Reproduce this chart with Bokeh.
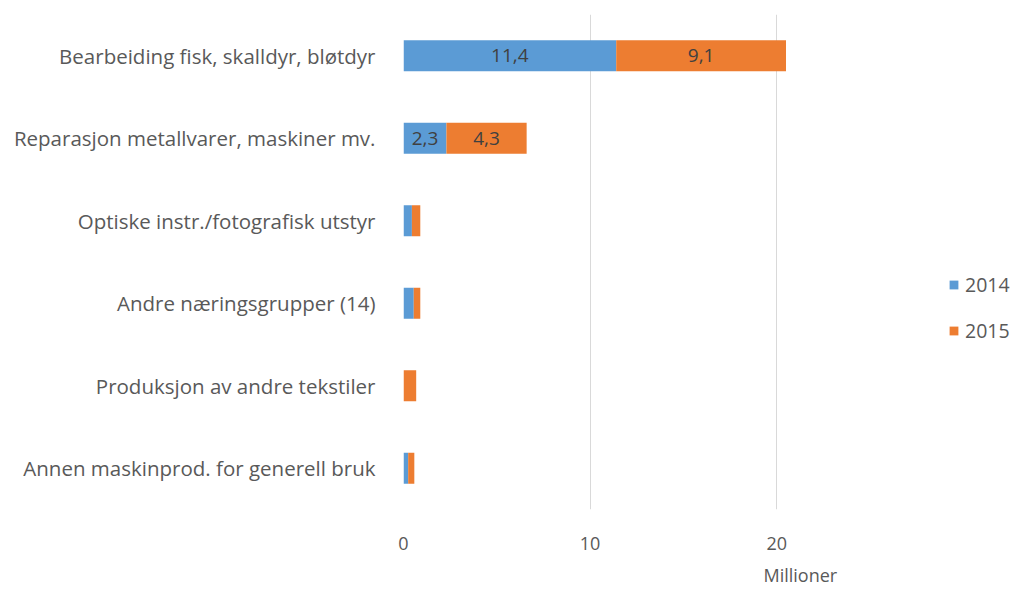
from bokeh.plotting import figure
from bokeh.models import ColumnDataSource, FixedTicker, Legend, LegendItem, Title
from bokeh.core.properties import value
from bokeh.embed import file_html
from bokeh.resources import INLINE

categories = [
    "Bearbeiding fisk, skalldyr, bløtdyr",
    "Reparasjon metallvarer, maskiner mv.",
    "Optiske instr./fotografisk utstyr",
    "Andre næringsgrupper (14)",
    "Produksjon av andre tekstiler",
    "Annen maskinprod. for generell bruk",
]
v2014 = [11.4, 2.3, 0.45, 0.55, 0.0, 0.25]
v2015 = [9.1, 4.3, 0.45, 0.35, 0.68, 0.33]
series = ["2014", "2015"]
colors = ["#5B9BD5", "#ED7D31"]
labeled = [True, True, False, False, False, False]
x_ticks = [0, 10, 20]

n = len(categories)
ypos = [n - i - 0.5 for i in range(n)]

FONT = "Open Sans"
GRAY = "#595959"

p = figure(frame_width=612, frame_height=495, output_backend="svg", toolbar_location=None,
           x_range=(0, 32.8), y_range=(0, n),
           min_border_left=403, min_border_right=5, min_border_top=14, min_border_bottom=0)
p.outline_line_color = None
p.background_fill_color = "white"

src = ColumnDataSource(dict(y=ypos, s2014=v2014, s2015=v2015))
rs = p.hbar_stack(["s2014", "s2015"], y="y", height=0.375, color=colors, source=src,
                  line_color=None)

# data labels
lx, ly, lt = [], [], []
for i in range(n):
    if labeled[i]:
        a, b = v2014[i], v2015[i]
        lx += [a / 2, a + b / 2]
        ly += [ypos[i], ypos[i]]
        lt += [f"{a:.1f}".replace(".", ","), f"{b:.1f}".replace(".", ",")]
p.text(x=lx, y=ly, text=lt, text_align="center", text_baseline="middle",
       text_font=value(FONT), text_font_size="19px", text_color="#404040")

# axes
p.xaxis.ticker = FixedTicker(ticks=x_ticks)
p.xaxis.axis_line_color = None
p.xaxis.major_tick_line_color = None
p.xaxis.minor_tick_line_color = None
p.xaxis.major_label_standoff = 21
p.xaxis.major_label_text_font = FONT
p.xaxis.major_label_text_font_size = "18px"
p.xaxis.major_label_text_color = GRAY

p.yaxis.ticker = FixedTicker(ticks=ypos)
p.yaxis.major_label_overrides = {y: c for y, c in zip(ypos, categories)}
p.yaxis.axis_line_color = None
p.yaxis.major_tick_line_color = None
p.yaxis.minor_tick_line_color = None
p.yaxis.major_label_standoff = 22
p.yaxis.major_label_text_font = FONT
p.yaxis.major_label_text_font_size = "20.5px"
p.yaxis.major_label_text_color = GRAY

p.xgrid.grid_line_color = "#D9D9D9"
p.xgrid.grid_line_width = 1
p.ygrid.grid_line_color = None

p.add_layout(Title(text="Millioner", align="left", offset=360, standoff=17, text_font=FONT,
                   text_font_size="18px", text_color=GRAY, text_font_style="normal"),
             "below")

legend = Legend(items=[LegendItem(label=s, renderers=[r]) for s, r in zip(series, rs)],
                location=(545, 165), spacing=19, glyph_width=11, glyph_height=11,
                label_text_font=FONT, label_text_font_size="19.5px",
                label_text_color=GRAY, border_line_color=None,
                background_fill_alpha=0, label_standoff=6)
p.add_layout(legend)

open("out.html", "w").write(file_html(p, INLINE))
